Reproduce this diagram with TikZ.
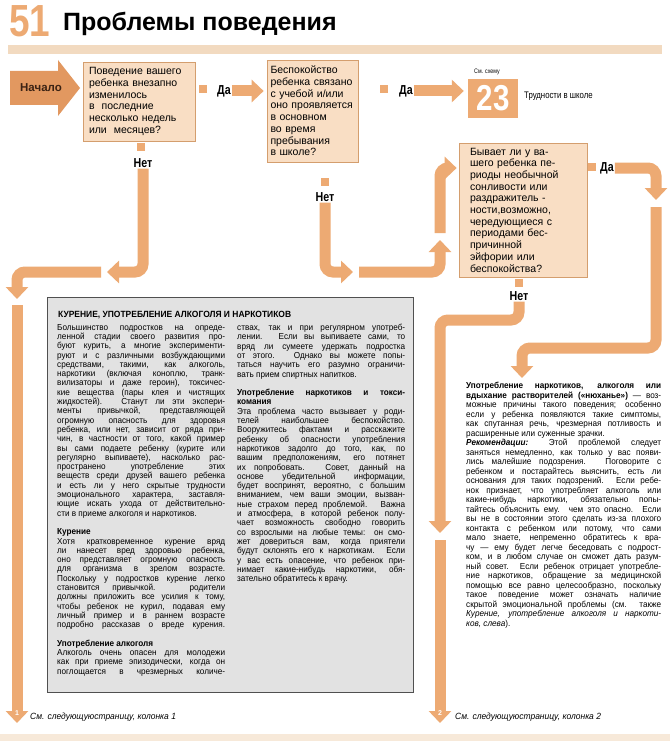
\documentclass[tikz,border=0pt]{standalone}
\usepackage{fontspec}
\setmainfont{Liberation Sans}
\newfontfamily\condf[FakeStretch=0.82]{Liberation Sans}
\newfontfamily\bodyf[FakeStretch=0.94]{Liberation Sans}
\usetikzlibrary{arrows.meta}
\definecolor{flowc}{RGB}{237,170,115}
\definecolor{boxfill}{RGB}{249,222,196}
\definecolor{boxdraw}{RGB}{212,158,110}
\definecolor{startc}{RGB}{226,152,96}
\definecolor{startt}{RGB}{60,35,20}
\definecolor{grayfill}{RGB}{226,226,226}
\definecolor{grayline}{RGB}{80,80,80}
\definecolor{bandc}{RGB}{242,218,192}
\newcommand{\jl}[2][168pt]{\makebox[#1][s]{#2}}
\begin{document}
\begin{tikzpicture}[x=1pt,y=-1pt,
  qbox/.style={draw=boxdraw, line width=0.7pt, fill=boxfill, align=left, inner sep=0pt,
     font=\fontsize{10.5}{11.7}\selectfont},
  sqr/.style={fill=flowc, minimum width=8pt, minimum height=8pt, inner sep=0pt},
  yn/.style={font=\condf\bfseries\fontsize{13}{13}\selectfont, inner sep=1pt},
  flow/.style={line width=11pt, draw=flowc, rounded corners=8pt, -{Triangle[width=22pt,length=12pt]}},
  coltext/.style={anchor=north west, inner sep=0pt, align=left, font=\bodyf\fontsize{8.7}{9.3}\selectfont},
  note/.style={font=\bodyf\itshape\fontsize{9}{10}\selectfont, inner sep=0pt, anchor=west}
]
\useasboundingbox (0,0) rectangle (670,741);
\fill[white] (0,0) rectangle (670,741);

% title
\node[anchor=base west, inner sep=0pt, text=flowc, font=\condf\bfseries\fontsize{45}{45}\selectfont] (num) at (9,37) {51};
\node[anchor=base west, inner sep=0pt, font=\bfseries\fontsize{25}{25}\selectfont] (title) at (63,31) {Проблемы поведения};
\fill[bandc] (8,45) rectangle (662,54);
\fill[bandc!60] (0,734) rectangle (670,741);

% start arrow
\fill[startc] (10,71) -- (58,71) -- (58,60) -- (80,88) -- (58,116) -- (58,105) -- (10,105) -- cycle;
\node[font=\bfseries\fontsize{11.5}{12}\selectfont, text=startt] (start) at (41,88) {Начало};

% question boxes
\node[qbox, minimum width=112pt, minimum height=79pt, text width=100pt] (box1) at (139,101.5) {%
\jl[100pt]{Поведение вашего}\\
\jl[100pt]{ребенка внезапно}\\
изменилось\\
в\ \ последние\\
\jl[100pt]{несколько недель}\\
или\ \ месяцев?};

\node[qbox, minimum width=91pt, minimum height=102pt, text width=84pt] (box2) at (312.5,111) {%
Беспокойство\\
ребенка связано\\
с учебой и/или\\
оно проявляется\\
в основном\\
во время\\
пребывания\\
в школе?};

\node[qbox, minimum width=128pt, minimum height=134pt, text width=106pt] (box3) at (523,210) {%
\jl[106pt]{Бывает ли у ва-}\\
\jl[106pt]{шего ребенка пе-}\\
\jl[106pt]{риоды необычной}\\
\jl[106pt]{сонливости или}\\
\jl[106pt]{раздражитель -}\\
ности,возможно,\\
\jl[106pt]{чередующиеся с}\\
\jl[106pt]{периодами бес-}\\
причинной\\
эйфории или\\
беспокойства?};

% result box 23
\node[font=\condf\fontsize{6.5}{7}\selectfont, inner sep=0pt] (see) at (487,72) {См. схему};
\node[fill=flowc, minimum width=50pt, minimum height=39pt, inner sep=0pt, text=white,
      font=\condf\bfseries\fontsize{36}{36}\selectfont] (b23) at (493,98.5) {23};
\node[anchor=west, inner sep=0pt, font=\condf\fontsize{9.5}{10}\selectfont] (school) at (524,96) {Трудности в школе};

% squares and labels
\node[sqr] (s1r) at (203,89) {};
\node[yn] (da1) at (224,91) {Да};
\node[sqr] (s2r) at (384,89) {};
\node[yn] (da2) at (406,91) {Да};
\node[sqr] (s1b) at (141,147) {};
\node[yn] (net1) at (143,163) {Нет};
\node[sqr] (s2b) at (325,182) {};
\node[yn] (net2) at (325,197) {Нет};
\node[sqr] (s3r) at (592,167) {};
\node[yn] (da3) at (607,168) {Да};
\node[sqr] (s3b) at (519,283) {};
\node[yn] (net3) at (519,296) {Нет};

% coordinates
\coordinate (c1) at (107,272);
\coordinate (c2) at (101,272);
\coordinate (c3) at (17,299);
\coordinate (c4) at (17,305);
\coordinate (c5) at (17,723);
\coordinate (c6) at (353,272);
\coordinate (c7) at (359,272);
\coordinate (c8) at (440,240);
\coordinate (c9) at (440,233);
\coordinate (c11) at (656,200);
\coordinate (c12) at (656,207);
\coordinate (c13) at (656,348);
\coordinate (c14) at (522,348);
\coordinate (c15) at (522,378);
\coordinate (c16) at (440,320);
\coordinate (c17) at (440,533);
\coordinate (c18) at (440,540);
\coordinate (c19) at (440,723);

% flow connectors
\draw[flow, shorten >=3pt] (da1.east) -- (box2.west |- da1.east);
\draw[flow, shorten >=4pt] (da2.east) -- (b23.west |- da2.east);
\draw[flow] (net1.south) |- (c1);
\draw[flow] (c2) -| (c3);
\draw[flow] (c4) -- (c5);
\draw[flow] (net2.south) |- (c6);
\draw[flow] (c7) -| (c8);
\draw[flow, shorten >=2pt] (c9) |- (box3.west |- da3.center);
\draw[flow] (da3.east) -| (c11);
\draw[flow] (c12) -- (c13) -- (c14) -- (c15);
\draw[flow] (net3.south) |- (c16) -- (c17);
\draw[flow] (c18) -- (c19);
\node[text=white, font=\bfseries\fontsize{7}{7}\selectfont, inner sep=0pt] (one) at (17,713) {1};
\node[text=white, font=\bfseries\fontsize{7}{7}\selectfont, inner sep=0pt] (two) at (440,713) {2};

% gray info box
\node[draw=grayline, fill=grayfill, line width=0.8pt, minimum width=366pt, minimum height=395pt,
      anchor=north west, inner sep=0pt] (gbox) at (47,297) {};
\node[anchor=west, inner sep=0pt, font=\bodyf\bfseries\fontsize{9}{9}\selectfont] (ghead) at (58,315)
  {КУРЕНИЕ, УПОТРЕБЛЕНИЕ АЛКОГОЛЯ И НАРКОТИКОВ};

\node[coltext] (gleft) at (57,324) {%
\jl{Большинство подростков на опреде-}\\
\jl{ленной стадии своего развития про-}\\
\jl{буют курить, а многие эксперименти-}\\
\jl{руют и с различными возбуждающими}\\
\jl{средствами, такими, как алкоголь,}\\
\jl{наркотики (включая коноплю, транк-}\\
\jl{вилизаторы и даже героин), токсичес-}\\
\jl{кие вещества (пары клея и чистящих}\\
\jl{жидкостей). Станут ли эти экспери-}\\
\jl{менты привычкой, представляющей}\\
\jl{огромную опасность для здоровья}\\
\jl{ребенка, или нет, зависит от ряда при-}\\
\jl{чин, в частности от того, какой пример}\\
\jl{вы сами подаете ребенку (курите или}\\
\jl{регулярно выпиваете), насколько рас-}\\
\jl{пространено употребление этих}\\
\jl{веществ среди друзей вашего ребенка}\\
\jl{и есть ли у него скрытые трудности}\\
\jl{эмоционального характера, заставля-}\\
\jl{ющие искать ухода от действительно-}\\
сти в приеме алкоголя и наркотиков.\\[9.3pt]
\textbf{Курение}\\
\jl{Хотя кратковременное курение вряд}\\
\jl{ли нанесет вред здоровью ребенка,}\\
\jl{оно представляет огромную опасность}\\
\jl{для организма в зрелом возрасте.}\\
\jl{Поскольку у подростков курение легко}\\
\jl{становится привычкой. родители}\\
\jl{должны приложить все усилия к тому,}\\
\jl{чтобы ребенок не курил, подавая ему}\\
\jl{личный пример и в раннем возрасте}\\
\jl{подробно рассказав о вреде курения.}\\[9.3pt]
\textbf{Употребление алкоголя}\\
\jl{Алкоголь очень опасен для молодежи}\\
\jl{как при приеме эпизодически, когда он}\\
\jl{поглощается в чрезмерных количе-}};

\node[coltext] (gright) at (237,324) {%
\jl{ствах, так и при регулярном употреб-}\\
\jl{лении. Если вы выпиваете сами, то}\\
\jl{вряд ли сумеете удержать подростка}\\
\jl{от этого. Однако вы можете попы-}\\
\jl{таться научить его разумно ограничи-}\\
вать прием спиртных напитков.\\[9.3pt]
\textbf{\jl{Употребление наркотиков и токси-}}\\
\textbf{комания}\\
\jl{Эта проблема часто вызывает у роди-}\\
\jl{телей наибольшее беспокойство.}\\
\jl{Вооружитесь фактами и расскажите}\\
\jl{ребенку об опасности употребления}\\
\jl{наркотиков задолго до того, как, по}\\
\jl{вашим предположениям, его потянет}\\
\jl{их попробовать. Совет, данный на}\\
\jl{основе убедительной информации,}\\
\jl{будет воспринят, вероятно, с большим}\\
\jl{вниманием, чем ваши эмоции, вызван-}\\
\jl{ные страхом перед проблемой. Важна}\\
\jl{и атмосфера, в которой ребенок полу-}\\
\jl{чает возможность свободно говорить}\\
\jl{со взрослыми на любые темы: он смо-}\\
\jl{жет довериться вам, когда приятели}\\
\jl{будут склонять его к наркотикам. Если}\\
\jl{у вас есть опасение, что ребенок при-}\\
\jl{нимает какие-нибудь наркотики, обя-}\\
зательно обратитесь к врачу.};

% right text block
\node[coltext, font=\bodyf\fontsize{8.7}{9.5}\selectfont] (rtext) at (466,382) {%
\textbf{\jl[195pt]{Употребление наркотиков, алкоголя или}}\\
\jl[195pt]{\textbf{вдыхание растворителей («нюханье»)} — воз-}\\
\jl[195pt]{можные причины такого поведения; особенно}\\
\jl[195pt]{если у ребенка появляются такие симптомы,}\\
\jl[195pt]{как спутанная речь, чрезмерная потливость и}\\
расширенные или суженные зрачки.\\
\jl[195pt]{\textbf{\textit{Рекомендации:}} Этой проблемой следует}\\
\jl[195pt]{заняться немедленно, как только у вас появи-}\\
\jl[195pt]{лись малейшие подозрения. Поговорите с}\\
\jl[195pt]{ребенком и постарайтесь выяснить, есть ли}\\
\jl[195pt]{основания для таких подозрений. Если ребе-}\\
\jl[195pt]{нок признает, что употребляет алкоголь или}\\
\jl[195pt]{какие-нибудь наркотики, обязательно попы-}\\
\jl[195pt]{тайтесь объяснить ему. чем это опасно. Если}\\
\jl[195pt]{вы не в состоянии этого сделать из-за плохого}\\
\jl[195pt]{контакта с ребенком или потому, что сами}\\
\jl[195pt]{мало знаете, непременно обратитесь к вра-}\\
\jl[195pt]{чу — ему будет легче беседовать с подрост-}\\
\jl[195pt]{ком, и в любом случае он сможет дать разум-}\\
\jl[195pt]{ный совет. Если ребенок отрицает употребле-}\\
\jl[195pt]{ние наркотиков, обращение за медицинской}\\
\jl[195pt]{помощью все равно целесообразно, поскольку}\\
\jl[195pt]{такое поведение может означать наличие}\\
\jl[195pt]{скрытой эмоциональной проблемы (см. также}\\
\jl[195pt]{\textit{Курение, употребление алкоголя и наркоти-}}\\
\textit{ков, слева}).};

% footer notes
\node[note] (foot1) at (30,717) {См. следующуюстраницу, колонка 1};
\node[note] (foot2) at (455,717) {См. следующуюстраницу, колонка 2};
\end{tikzpicture}
\end{document}
